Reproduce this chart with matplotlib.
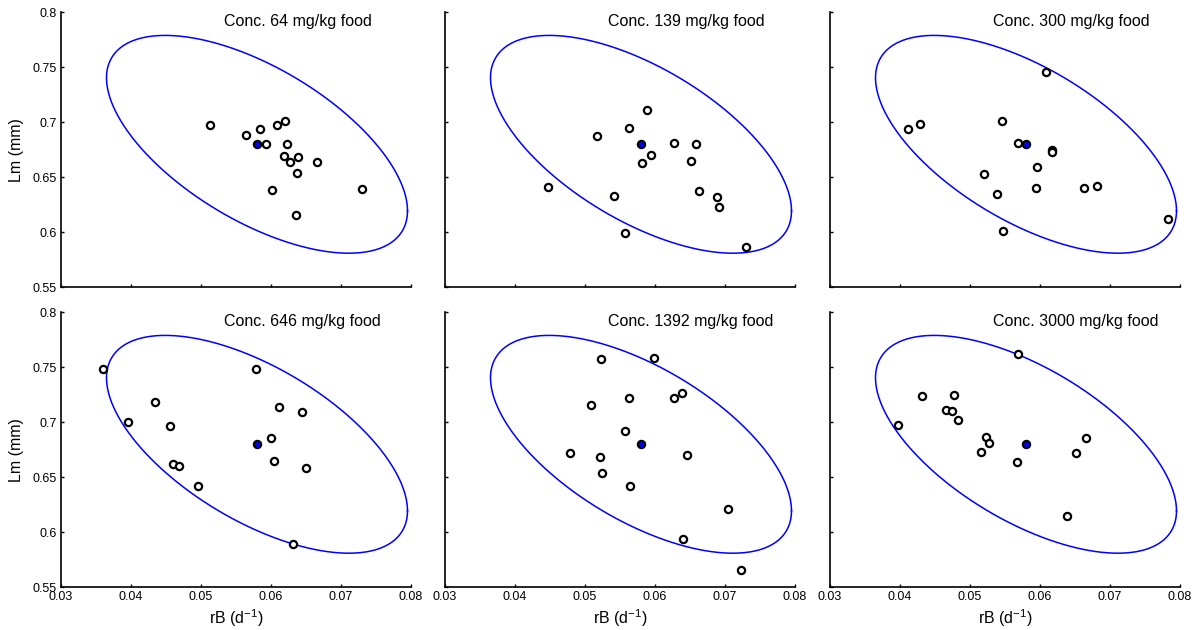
import numpy as np
import matplotlib
matplotlib.use("Agg")
import matplotlib.pyplot as plt

plt.rcParams["font.family"] = ["Liberation Sans", "DejaVu Sans"]
plt.rcParams["mathtext.fontset"] = "custom"
plt.rcParams["mathtext.rm"] = "Liberation Sans"
plt.rcParams["mathtext.it"] = "Liberation Sans:italic"

# Concentrations (mg/kg food)
concentrations = [64, 139, 300, 646, 1392, 3000]

# Individual estimates: growth rate rB (1/d) and maximum length Lm (mm)
rB_64 = [0.0513, 0.0564, 0.0584, 0.0593, 0.0608, 0.0620, 0.0623, 0.0619,
         0.0627, 0.0638, 0.0637, 0.0666, 0.0602, 0.0730, 0.0635]
Lm_64 = [0.6976, 0.6883, 0.6940, 0.6800, 0.6976, 0.7012, 0.6807, 0.6693,
         0.6639, 0.6687, 0.6539, 0.6642, 0.6386, 0.6392, 0.6160]

rB_139 = [0.0588, 0.0563, 0.0517, 0.0594, 0.0581, 0.0627, 0.0658, 0.0651,
          0.0447, 0.0541, 0.0663, 0.0688, 0.0691, 0.0557, 0.0730]
Lm_139 = [0.7114, 0.6949, 0.6877, 0.6702, 0.6627, 0.6816, 0.6801, 0.6651,
          0.6416, 0.6328, 0.6373, 0.6322, 0.6226, 0.5994, 0.5864]

rB_300 = [0.0609, 0.0411, 0.0428, 0.0546, 0.0568, 0.0617, 0.0617, 0.0596,
          0.0520, 0.0539, 0.0594, 0.0663, 0.0681, 0.0547, 0.0783]
Lm_300 = [0.7461, 0.6943, 0.6985, 0.7015, 0.6816, 0.6744, 0.6729, 0.6590,
          0.6533, 0.6352, 0.6401, 0.6401, 0.6425, 0.6009, 0.6123]

rB_646 = [0.0360, 0.0579, 0.0434, 0.0396, 0.0456, 0.0611, 0.0644, 0.0600,
          0.0604, 0.0650, 0.0460, 0.0469, 0.0496, 0.0632]
Lm_646 = [0.7482, 0.7482, 0.7184, 0.7003, 0.6970, 0.7139, 0.7096, 0.6855,
          0.6651, 0.6584, 0.6617, 0.6602, 0.6419, 0.5898]

rB_1392 = [0.0523, 0.0599, 0.0639, 0.0627, 0.0563, 0.0508, 0.0557, 0.0478,
           0.0522, 0.0645, 0.0524, 0.0564, 0.0704, 0.0640, 0.0723]
Lm_1392 = [0.7572, 0.7584, 0.7262, 0.7220, 0.7220, 0.7160, 0.6925, 0.6723,
           0.6681, 0.6702, 0.6542, 0.6425, 0.6214, 0.5937, 0.5657]

rB_3000 = [0.0569, 0.0431, 0.0477, 0.0466, 0.0474, 0.0483, 0.0397, 0.0523,
           0.0527, 0.0515, 0.0567, 0.0665, 0.0651, 0.0638]
Lm_3000 = [0.7620, 0.7241, 0.7250, 0.7108, 0.7102, 0.7021, 0.6973, 0.6870,
           0.6816, 0.6729, 0.6642, 0.6855, 0.6723, 0.6145]

rB_sets = [rB_64, rB_139, rB_300, rB_646, rB_1392, rB_3000]
Lm_sets = [Lm_64, Lm_139, Lm_300, Lm_646, Lm_1392, Lm_3000]

# Population estimate and its confidence ellipse
rB_mean = 0.058
Lm_mean = 0.680
rB_halfwidth = 0.0215     # half extent of the ellipse along rB
Lm_halfwidth = 0.099      # half extent of the ellipse along Lm
correlation = -0.61

xticks = [0.03, 0.04, 0.05, 0.06, 0.07, 0.08]
yticks = [0.55, 0.6, 0.65, 0.7, 0.75, 0.8]

t = np.linspace(0, 2 * np.pi, 400)
ell_x = rB_mean + rB_halfwidth * np.cos(t)
ell_y = Lm_mean + Lm_halfwidth * (correlation * np.cos(t)
                                  + np.sqrt(1 - correlation ** 2) * np.sin(t))

fig = plt.figure(figsize=(11.99, 6.30), dpi=100)
W, H = 1199, 630
lefts = [61, 445, 830]
tops = [12.3, 312.3]
ax_w, ax_h = 350, 275

for i, (conc, xs, ys) in enumerate(zip(concentrations, rB_sets, Lm_sets)):
    row, col = divmod(i, 3)
    ax = fig.add_axes([lefts[col] / W, 1 - (tops[row] + ax_h) / H,
                       ax_w / W, ax_h / H])
    ax.plot(ell_x, ell_y, color="#0000ff", lw=1.1, zorder=2)
    ax.plot(xs, ys, linestyle="none", marker="o", ms=5.2, mew=1.6,
            mfc="white", mec="black", zorder=3)
    ax.plot([rB_mean], [Lm_mean], linestyle="none", marker="o", ms=5.2,
            mew=1.6, mfc="#0000ff", mec="black", zorder=4)
    ax.set_xlim(0.03, 0.08)
    ax.set_ylim(0.55, 0.8)
    ax.set_xticks(xticks)
    ax.set_yticks(yticks)
    ax.set_xticklabels([f"{v:g}" for v in xticks])
    ax.set_yticklabels([f"{v:g}" for v in yticks])
    ax.spines["top"].set_visible(False)
    ax.spines["right"].set_visible(False)
    for s in ("left", "bottom"):
        ax.spines[s].set_linewidth(1.2)
    ax.tick_params(direction="in", length=2.2, width=1.0, labelsize=9,
                   pad=3, colors="black")
    if col != 0:
        ax.tick_params(labelleft=False)
    else:
        ax.set_ylabel("Lm (mm)", fontsize=11.5, labelpad=6)
    if row == 0:
        ax.tick_params(labelbottom=False)
    else:
        ax.set_xlabel(r"rB (d$^{-1}$)", fontsize=11.5, labelpad=3)
    ax.text(0.0533, 0.792, f"Conc. {conc} mg/kg food", fontsize=11.5,
            ha="left", va="center")

fig.savefig("out.png", dpi=100)
